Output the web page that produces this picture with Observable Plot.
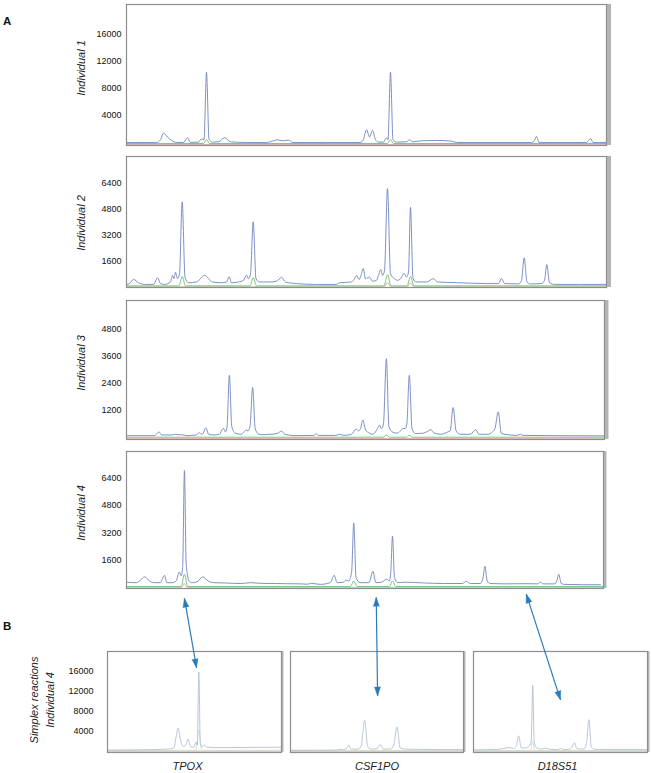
<!DOCTYPE html>
<html>
<head>
<meta charset="utf-8">
<script src="https://cdn.jsdelivr.net/npm/d3@7"></script>
<script src="https://cdn.jsdelivr.net/npm/@observablehq/plot@0.6"></script>
<style>
  body { margin: 0; background: #fff; font-family: "Liberation Sans", Arial, sans-serif; }
  #fig { position: relative; width: 651px; height: 773px; overflow: hidden; }
  #fig svg { position: absolute; left: 0; }
  .tag { position: absolute; left: 3px; font-weight: bold; font-size: 11.5px; line-height: 12px; color: #111; }
</style>
</head>
<body>
<div id="fig"></div>
<script>
// ---------------- DATA ----------------
// Panel labels
const panelLabelsA = ["Individual 1", "Individual 2", "Individual 3", "Individual 4"];
const panelLabelB = "Simplex reactions\nIndividual 4";
const lociB = ["TPOX", "CSF1PO", "D18S51"];

// y tick labels
const ticksInd1 = [4000, 8000, 12000, 16000];
const ticksInd2 = [1600, 3200, 4800, 6400];
const ticksInd3 = [1200, 2400, 3600, 4800];
const ticksInd4 = [1600, 3200, 4800, 6400];
const ticksSimplex = [4000, 8000, 12000, 16000];

// y extents of each panel (RFU)
const yExtInd1 = [-550, 20340];
const yExtInd2 = [-40, 8010];
const yExtInd3 = [-80, 6046];
const yExtInd4 = [-40, 7950];
const yExtSimplex = [-280, 20020];
// x extents (relative scan position)
const xExtA = [0, 480];
const xExtB = [0, 173.4];

// Traces: [position, RFU] vertices
const ind1Blue = [[0,-100],[30,-100],[34,300],[37,1300],[41,700],[45,200],[50,-100],[57,-100],[61,600],[64,-100],[72,-50],[75,440],[77.5,300],[80,10300],[82.5,400],[86,-50],[92,0],[98,600],[104,0],[120,-100],[140,-100],[148,200],[151,300],[156,150],[162,250],[166,-100],[200,-100],[234,-100],[237,400],[240,1800],[243,700],[246,1700],[249,300],[252,-50],[257,-50],[260,600],[261.5,300],[264,10300],[266.5,300],[270,-50],[280,0],[283,300],[286,0],[295,150],[310,200],[325,100],[330,-100],[405,-100],[408,200],[410,800],[412.5,-100],[460,-100],[462,150],[464,500],[466.5,-100],[480,-100]];
const ind1Green = [[0,-250],[77,-250],[80,300],[83,-250],[261,-250],[264,300],[267,-250],[480,-250]];
const ind1Red = [[0,-400],[480,-400]];

const ind2Blue = [[0,150],[3,200],[7,460],[12,250],[18,150],[27,150],[31,560],[34,200],[38,150],[44,300],[46,700],[47.5,500],[49,900],[51,500],[53,800],[55.7,5220],[58.5,600],[62,250],[70,300],[78,700],[86,300],[95,250],[100,300],[102.7,630],[105,250],[112,300],[117,400],[120,720],[122,500],[124,800],[126.7,4000],[129.5,500],[133,300],[145,300],[150,350],[155,580],[159,300],[170,200],[190,150],[210,150],[213,250],[225,300],[228,500],[230,700],[232.5,450],[234.5,700],[236.7,1130],[239,500],[243,600],[246,350],[250,400],[252,700],[254.3,1070],[256,700],[258,1000],[261,6040],[264,800],[268,500],[271,400],[274,500],[277.7,830],[280,600],[282,900],[284,4880],[286.5,500],[290,300],[300,300],[307,500],[311,300],[330,260],[360,200],[372,200],[375,520],[378,200],[392,180],[395,400],[397.7,1780],[400.5,300],[404,180],[415,200],[418,400],[420.3,1370],[423,250],[428,150],[480,150]];
const ind2Green = [[0,60],[52.5,60],[55.7,640],[59,60],[123.5,60],[126.7,560],[130,60],[257.5,60],[261,750],[264.5,60],[280.5,60],[284,640],[287.5,60],[480,60]];
const ind2Red = [[0,0],[258,0],[261,280],[264,0],[281,0],[284,250],[287,0],[480,0]];

const ind3Blue = [[0,90],[28,90],[30,150],[32.7,260],[35,120],[45,120],[49,150],[52,130],[55.7,130],[60,90],[70,120],[73,220],[76,150],[77,200],[79.7,440],[82.5,150],[88,120],[93,150],[97.3,410],[99.5,250],[101,500],[103.3,2750],[105.7,500],[109,200],[115,150],[118,250],[120,340],[122,300],[124,500],[126.7,2210],[129.2,400],[133,150],[138,130],[142.3,150],[146,150],[152,200],[155.7,290],[159,150],[170,90],[188,100],[190.7,170],[193,100],[210,100],[214,150],[218,100],[226,150],[230.7,380],[233,300],[235,400],[237.3,780],[240,350],[244,200],[247,150],[250,250],[252,400],[254,560],[256,400],[258,600],[261,3480],[263.5,500],[267,250],[272,200],[275,300],[278,410],[280,400],[281.5,600],[284,2750],[286.7,400],[290,180],[298,200],[302,270],[305.7,350],[309,200],[316,150],[320,200],[322.3,250],[325,300],[328,1330],[331,300],[335,150],[345,150],[350.7,350],[354,150],[363,150],[367.3,250],[370,400],[373.3,1140],[376.3,200],[380,150],[392,100],[395.7,150],[398,100],[480,80]];
const ind3Green = [[0,20],[258,20],[261,120],[264,20],[281,20],[284,100],[287,20],[480,20]];
const ind3Red = [[0,-40],[480,-40]];

const ind4Blue = [[0,330],[10,300],[14,450],[18.3,640],[23,400],[28,300],[34,300],[36,500],[38.3,730],[40.5,300],[46,300],[50,400],[53,925],[55,700],[56.5,1200],[58.3,6840],[60,1500],[61.5,700],[63,400],[66,300],[71,350],[76.7,640],[82,400],[88,300],[100,280],[115,250],[125,300],[135,260],[150,250],[160,240],[175,230],[182,210],[186,260],[195,200],[205,300],[209,730],[212,300],[218,320],[221,450],[223.5,400],[226.5,900],[228.7,3780],[231,600],[235,300],[244,300],[248,960],[251,300],[256,320],[262,500],[264.5,400],[265.8,800],[267.7,3010],[269.7,600],[273,300],[280,330],[300,280],[320,250],[338,250],[342,380],[346,250],[356,250],[358.5,500],[360.7,1250],[363,400],[366,250],[380,230],[400,240],[414,230],[416.7,330],[419,230],[431,230],[433,400],[435,790],[437.5,250],[441,200],[460,180],[477,180]];
const ind4Green = [[0,80],[55,80],[58.3,790],[61.5,80],[225.5,80],[228.7,400],[232,80],[264.5,80],[267.7,400],[271,80],[480,80]];
const ind4Red = [[0,10],[55.5,10],[58.3,250],[61,10],[480,10]];

const tpoxTrace = [[0,200],[30,250],[60,400],[66,600],[68,2500],[70.3,4660],[73,2000],[76,900],[78,1200],[80.4,2400],[82.5,900],[86,800],[88.4,1800],[89.5,1200],[91,15900],[92.5,1500],[94,800],[96.7,1200],[99,800],[110,700],[173.4,800]];
const tpoxGreen = [[0,150],[88,150],[91,4200],[94,150],[173.4,150]];
const tpoxRed = [[0,0],[173.4,0]];
const csf1poTrace = [[0,150],[45,200],[50,350],[53,300],[56,500],[58.3,1200],[60.5,400],[68,400],[71,1200],[74.3,6200],[77.5,800],[82,400],[87,500],[90,1330],[93,400],[100,400],[103.5,1200],[106.7,4870],[110,600],[116,400],[130,350],[173.3,300]];
const csf1poGreen = [[0,100],[173.3,100]];
const csf1poRed = [[0,0],[173.3,0]];
const d18s51Trace = [[0,250],[25,350],[32,600],[36.7,700],[40,500],[42.5,900],[45,3070],[47.5,700],[51,600],[55,900],[57.5,2000],[59,13200],[60.5,2000],[62.5,700],[68,400],[72.7,600],[76,350],[84,300],[86.7,500],[90,300],[96,400],[98,800],[100.7,1670],[103,500],[110,400],[112.5,1500],[115,6330],[117.5,700],[122,350],[173.4,300]];
const d18s51Green = [[0,120],[57,120],[59,2000],[61,120],[173.4,120]];
const d18s51Red = [[0,0],[173.4,0]];

// Arrows linking Individual 4 loci to simplex peaks
const arrowTopX = [58.3, 251.3, 402.3];       // position in Individual 4 panel
const arrowTopY = [-620, -560, -370];        // RFU (just below the panel)
const arrowBottomX = [88.7, 87.3, 86.7];      // position in simplex panels
const arrowBottomY = [16750, 11100, 10300];   // RFU in simplex panels

// ---------------- STYLE / LAYOUT ----------------
const W = 651, H = 773;
const FONT = '"Liberation Sans", Arial, Helvetica, sans-serif';
const BLUE = "#6f85bf", GREEN = "#6cbf6c", RED = "#dcb8b8";
const LIGHT = "#b3c0d2", LIGHTGREEN = "#c6e6c6", LIGHTRED = "#dca8a8";
const ARROW = "#2a7bb8";

const fig = document.getElementById("fig");
const xy = {x: d => d[0], y: d => d[1]};

function panel(o) {
  const mt = 4, mb = o.locus ? 24 : 4;
  const svg = Plot.plot({
    width: W,
    height: (o.bottom - o.top) + mt + mb,
    marginLeft: o.left, marginRight: W - o.right, marginTop: mt, marginBottom: mb,
    style: {fontFamily: FONT, background: "transparent", overflow: "visible"},
    x: {domain: o.xDomain, axis: null},
    y: {domain: o.yDomain, axis: null},
    marks: [
      Plot.line(o.red, {...xy, stroke: o.redColor, strokeWidth: 1}),
      Plot.line(o.green, {...xy, stroke: o.greenColor, strokeWidth: 0.9, curve: "monotone-x"}),
      Plot.line(o.blue, {...xy, stroke: o.blueColor, strokeWidth: 0.9, curve: "monotone-x"}),
      Plot.frame({stroke: "#8e8e8e", strokeWidth: 1.2}),
      Plot.ruleX([o.xDomain[1]], {stroke: "#b4b4b4", strokeWidth: o.shadow, dx: o.shadow / 2 + 0.5}),
      Plot.axisY({ticks: o.ticks, tickSize: 0, tickPadding: o.tickPadding, tickFormat: d3.format("d"), fontSize: 9, label: null, fill: "#111"}),
      Plot.text([o.label], {text: d => d, frameAnchor: "left", dx: o.labelDx, dy: o.labelDy, rotate: -90,
        textAnchor: "middle", lineAnchor: "middle", lineHeight: 1.4, fontStyle: "italic", fontSize: 11, fill: "#222"}),
      o.locus ? Plot.text([o.locus], {text: d => d, frameAnchor: "bottom", dy: 14, dx: o.locusDx,
        textAnchor: "middle", lineAnchor: "middle", fontStyle: "italic", fontSize: 11, fill: "#222"}) : null
    ]
  });
  const top = o.top - mt;
  svg.style.top = top + "px";
  fig.appendChild(svg);
  return {svg, top};
}

const layoutA = [
  {top: 4,   bottom: 145, left: 126, right: 606, labelDy: -7,  shadow: 4},
  {top: 156, bottom: 287, left: 126, right: 606, labelDy: 1,   shadow: 4},
  {top: 300, bottom: 439, left: 126, right: 604, labelDy: -7,  shadow: 3.5},
  {top: 451, bottom: 588, left: 126, right: 603, labelDy: -7,  shadow: 2.5}
];
const dataA = [
  {blue: ind1Blue, green: ind1Green, red: ind1Red, ticks: ticksInd1, yDomain: yExtInd1},
  {blue: ind2Blue, green: ind2Green, red: ind2Red, ticks: ticksInd2, yDomain: yExtInd2},
  {blue: ind3Blue, green: ind3Green, red: ind3Red, ticks: ticksInd3, yDomain: yExtInd3},
  {blue: ind4Blue, green: ind4Green, red: ind4Red, ticks: ticksInd4, yDomain: yExtInd4}
];
const plotsA = dataA.map((d, i) => panel({
  ...d, ...layoutA[i], label: panelLabelsA[i], xDomain: xExtA,
  blueColor: BLUE, greenColor: GREEN, redColor: RED,
  tickPadding: 5, labelDx: -46
}));

const layoutB = [
  {left: 107, right: 281, locusDx: -7},
  {left: 290, right: 463, locusDx: 0},
  {left: 473, right: 647, locusDx: -3}
];
const dataB = [
  {blue: tpoxTrace, green: tpoxGreen, red: tpoxRed},
  {blue: csf1poTrace, green: csf1poGreen, red: csf1poRed},
  {blue: d18s51Trace, green: d18s51Green, red: d18s51Red}
];
const plotsB = dataB.map((d, i) => panel({
  ...d, ...layoutB[i], top: 651, bottom: 752, xDomain: xExtB, yDomain: yExtSimplex,
  ticks: i === 0 ? ticksSimplex : [], label: i === 0 ? panelLabelB : "",
  labelDx: -66.5, labelDy: -2, locus: lociB[i],
  blueColor: LIGHT, greenColor: LIGHTGREEN, redColor: LIGHTRED,
  tickPadding: 14, shadow: 1.5
}));

// ---------------- ARROWS (overlay) ----------------
const a4 = plotsA[3];
const arrows = lociB.map((locus, i) => {
  const b = plotsB[i];
  return {
    locus,
    x1: a4.svg.scale("x").apply(arrowTopX[i]),
    y1: a4.svg.scale("y").apply(arrowTopY[i]) + a4.top,
    x2: b.svg.scale("x").apply(arrowBottomX[i]),
    y2: b.svg.scale("y").apply(arrowBottomY[i]) + b.top
  };
});
const heads = arrows.flatMap(a => [
  {x: a.x1, y: a.y1, angle: Math.atan2(a.x1 - a.x2, -(a.y1 - a.y2)) * 180 / Math.PI},
  {x: a.x2, y: a.y2, angle: Math.atan2(a.x2 - a.x1, -(a.y2 - a.y1)) * 180 / Math.PI}
]);
const overlay = Plot.plot({
  width: W, height: H, margin: 0,
  style: {background: "transparent", overflow: "visible"},
  x: {type: "identity", axis: null},
  y: {type: "identity", axis: null},
  marks: [
    Plot.link(arrows, {x1: "x1", y1: "y1", x2: "x2", y2: "y2", stroke: ARROW, strokeWidth: 1.2}),
    Plot.vector(heads, {x: "x", y: "y", rotate: "angle", length: 9, r: 3, shape: "spike",
      anchor: "end", fill: ARROW, stroke: ARROW, strokeWidth: 0.5, fillOpacity: 1})
  ]
});
overlay.style.top = "0px";
fig.appendChild(overlay);

// Panel tags
for (const [t, top] of [["A", 15], ["B", 620]]) {
  const d = document.createElement("div");
  d.className = "tag";
  d.textContent = t;
  d.style.top = top + "px";
  fig.appendChild(d);
}
</script>
</body>
</html>
